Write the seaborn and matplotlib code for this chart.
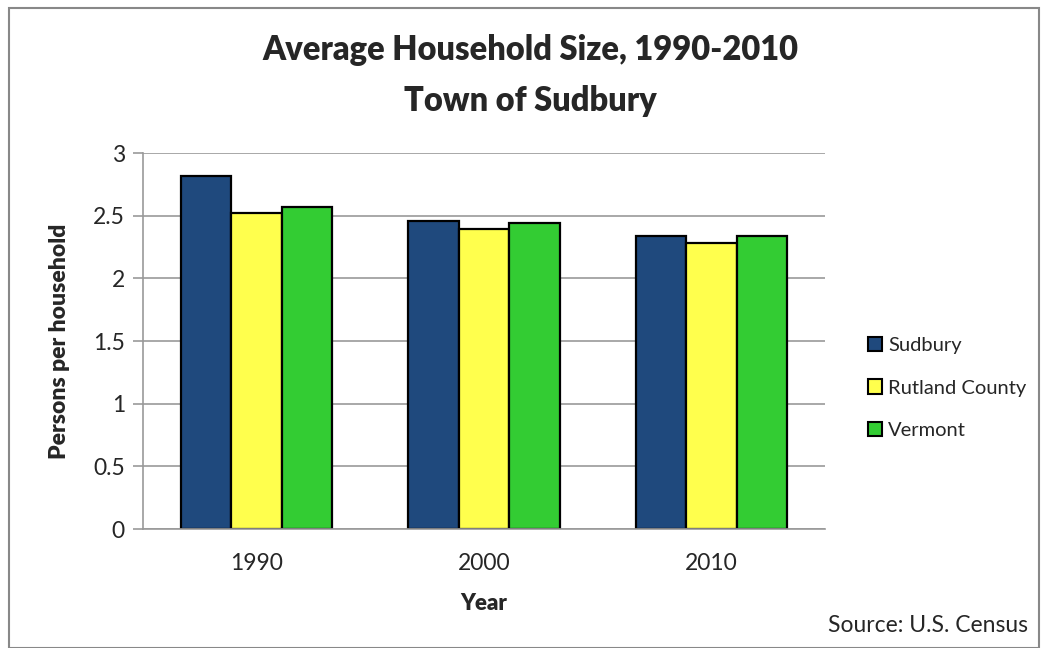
import pandas as pd
import matplotlib.pyplot as plt
import seaborn as sns
from matplotlib.patches import Patch, Rectangle

# Datos
years = ['1990', '2000', '2010']
areas = ['Sudbury', 'Rutland County', 'Vermont']
sudbury = [2.82, 2.46, 2.34]
rutland = [2.52, 2.39, 2.28]
vermont = [2.57, 2.44, 2.34]
colors = ['#1F497D', '#FFFF4D', '#33CC33']

df = pd.DataFrame({
    'year': years * 3,
    'area': [a for a in areas for _ in years],
    'size': sudbury + rutland + vermont,
})

sns.set_theme(style='white')
plt.rcParams['font.family'] = ['Lato', 'DejaVu Sans']

fig = plt.figure(figsize=(10.44, 6.48), dpi=100)
ax = fig.add_axes([143 / 1044, 1 - 529 / 648, 682 / 1044, 376 / 648])

sns.barplot(data=df, x='year', y='size', hue='area', palette=colors, saturation=1,
            width=0.667, edgecolor='black', linewidth=1.6, ax=ax, legend=False)

ax.set_xlim(-0.5, 2.5)
ax.set_ylim(0, 3)
ax.set_yticks([0, 0.5, 1, 1.5, 2, 2.5, 3])
ax.set_yticklabels(['0', '0.5', '1', '1.5', '2', '2.5', '3'])
ax.yaxis.grid(True, color='#999999', linewidth=1.2)
ax.set_axisbelow(True)
for s in ['top', 'right']:
    ax.spines[s].set_visible(False)
for s in ['left', 'bottom']:
    ax.spines[s].set_color('#999999')
    ax.spines[s].set_linewidth(1.2)
ax.tick_params(axis='y', left=True, length=7, width=1.2, color='#999999',
               labelsize=16.5, pad=6)
ax.tick_params(axis='x', bottom=False, labelsize=16.5, pad=11)
ax.set_xlabel('Year', fontsize=16, fontweight='heavy', labelpad=14)
ax.set_ylabel('Persons per household', fontsize=16.5, fontweight='heavy')
ax.yaxis.set_label_coords((70 - 143) / 682, 0.5)

fig.text(530 / 1044, 1 - 50 / 648, 'Average Household Size, 1990-2010',
         ha='center', va='center', fontsize=23.5, fontweight='heavy')
fig.text(530 / 1044, 1 - 101 / 648, 'Town of Sudbury',
         ha='center', va='center', fontsize=23.5, fontweight='heavy')
fig.text(1028 / 1044, 1 - 626 / 648, 'Source: U.S. Census', ha='right', va='center',
         fontsize=16.5)

handles = [Patch(facecolor=c, edgecolor='black', linewidth=1.5, label=a)
           for a, c in zip(areas, colors)]
fig.legend(handles=handles, loc='center left', bbox_to_anchor=(850 / 1044, 1 - 388 / 648),
           frameon=False, fontsize=14.5, handlelength=0.7, handleheight=0.7,
           handletextpad=0.3, labelspacing=1.25)

fig.patches.append(Rectangle((9 / 1044, 0), 1030 / 1044, 1 - 8 / 648, transform=fig.transFigure,
                             fill=False, edgecolor='#888888', linewidth=1.5))

fig.savefig('out.png', dpi=100)
